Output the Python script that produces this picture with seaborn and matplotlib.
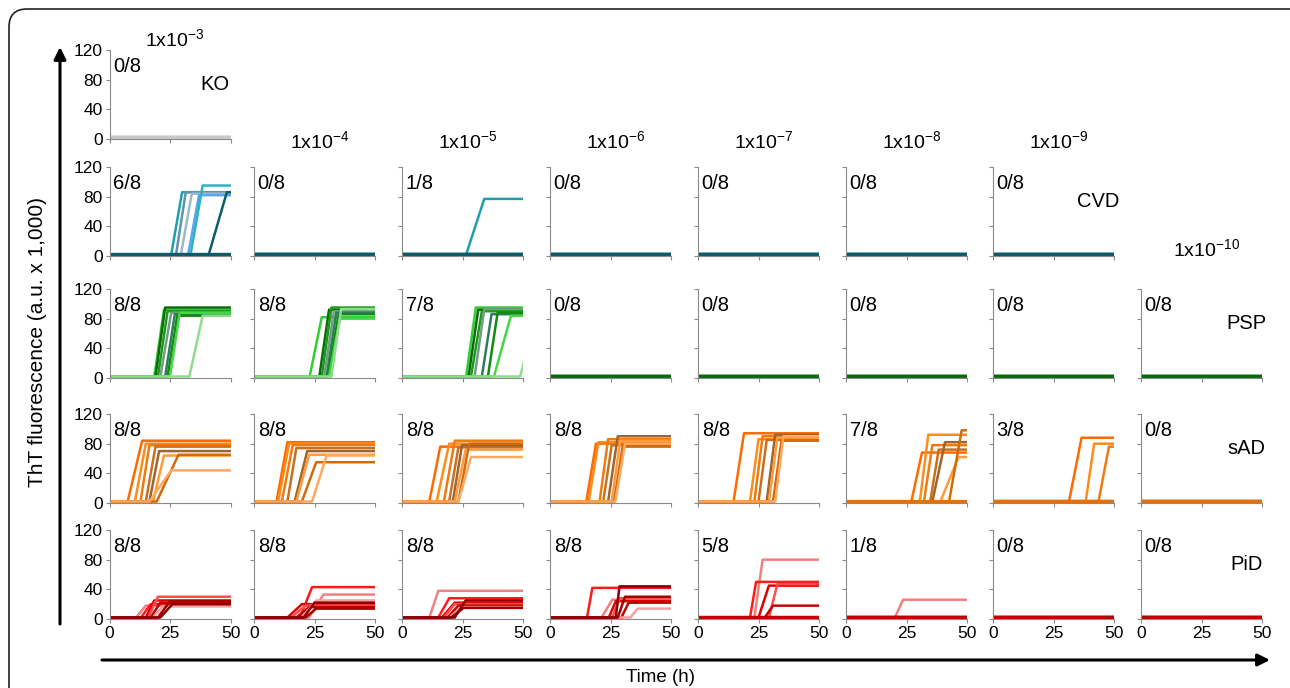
import pandas as pd
import seaborn as sns
import matplotlib.pyplot as plt
from matplotlib.patches import FancyBboxPatch

sns.set_style('ticks')
plt.rcParams['font.family'] = ['Liberation Sans', 'DejaVu Sans']
plt.rcParams['text.color'] = 'black'
plt.rcParams['xtick.labelcolor'] = 'black'
plt.rcParams['ytick.labelcolor'] = 'black'

# groups (rows) and seed dilutions (columns)
groups = ['KO', 'CVD', 'PSP', 'sAD', 'PiD']
dilutions = ['-3', '-4', '-5', '-6', '-7', '-8', '-9', '-10']

# each rising well: (lag end h, plateau reached h, plateau ThT x1000)
ko_curves = [[]]
cvd_curves = [
    [(25.5, 30, 86), (27.5, 31.5, 86), (29.5, 34, 84), (32.5, 37, 82), (33.5, 38.5, 95), (41, 48.5, 86)],
    [], [(26.5, 34, 77)], [], [], [], [],
]
psp_curves = [
    [(18.5, 22.5, 92), (19, 23, 95), (20, 24, 90), (21, 25.5, 88), (23, 27, 86), (24, 28, 84), (25, 29, 88), (33, 38.5, 84)],
    [(23, 28, 82), (27, 31, 92), (28, 32, 95), (29, 33, 90), (30, 34, 88), (30.5, 35, 86), (31, 35.5, 80), (32, 36, 93)],
    [(26.5, 30.5, 95), (27.5, 31.5, 92), (28.5, 33, 90), (30, 34, 93), (33, 37, 86), (35.5, 39.5, 88), (38, 45, 84), (48.8, 56, 90)],
    [], [], [], [], [],
]
sad_curves = [
    [(7.5, 13.5, 84), (10.5, 15, 80), (12.8, 16.5, 78), (15, 19, 76), (16.5, 20.5, 70), (18, 22.5, 64), (19.5, 28.5, 65), (16.5, 25.5, 44)],
    [(9.3, 13.8, 82), (10, 14.5, 80), (11.5, 16, 78), (13.8, 17.5, 74), (16.8, 22, 70), (17.5, 22.8, 65), (19.8, 25.7, 55), (24, 30, 64)],
    [(11.3, 15.8, 76), (14.3, 19.5, 80), (17.3, 21.8, 84), (19.5, 23.3, 75), (21, 24.8, 78), (21.8, 26.3, 72), (23.3, 27.8, 80), (23.3, 28.5, 62)],
    [(15, 19, 80), (16, 20, 82), (20.5, 24, 86), (22, 25.5, 78), (24, 28, 90), (25.5, 29, 84), (26.5, 30, 76), (27, 31, 80)],
    [(14.7, 19, 94), (21.5, 25, 86), (23.3, 26.7, 90), (25, 28.4, 85), (28.4, 31.9, 92), (29.3, 32.8, 88), (31, 34.5, 84), (31.9, 35.3, 90)],
    [(27, 31.4, 68), (30.5, 34, 92), (32.2, 35.7, 78), (34.8, 38.3, 72), (35.7, 40.9, 82), (39, 46.5, 62), (42.6, 47.8, 98)],
    [(31.4, 36.6, 88), (38.3, 41.8, 80), (43.6, 47.9, 76)],
    [],
]
pid_curves = [
    [(11, 15, 18), (13, 17, 20), (15, 18.5, 25), (16, 20, 30), (17, 21, 22), (18, 22, 17), (20, 25, 24), (21, 26, 20)],
    [(22.8, 28.7, 33), (19, 24, 43), (13.8, 19.8, 20), (15.3, 21.3, 18), (17.5, 22.8, 16), (19.8, 25.7, 25), (21.3, 25.7, 14), (20.5, 25, 22)],
    [(11.3, 15, 38), (15, 19.5, 28), (16.5, 21.8, 22), (17.3, 21.8, 20), (18.8, 23.3, 18), (19.5, 24.8, 16), (20.3, 25.5, 15), (21.8, 26.3, 25)],
    [(21.3, 25.7, 26), (15.3, 17.5, 42), (24.3, 27.2, 24), (25.7, 28.7, 28), (29.5, 32.5, 22), (33.2, 36.2, 14), (28, 31, 30), (27.2, 28.7, 44)],
    [(23.3, 26.7, 80), (21.5, 24, 50), (25, 29.3, 45), (29.3, 32.8, 47), (27.6, 31, 18)],
    [(20.2, 23.6, 26)],
    [], [],
]
all_curves = [ko_curves, cvd_curves, psp_curves, sad_curves, pid_curves]

ko_scores = ['0/8']
cvd_scores = ['6/8', '0/8', '1/8', '0/8', '0/8', '0/8', '0/8']
psp_scores = ['8/8', '8/8', '7/8', '0/8', '0/8', '0/8', '0/8', '0/8']
sad_scores = ['8/8', '8/8', '8/8', '8/8', '8/8', '7/8', '3/8', '0/8']
pid_scores = ['8/8', '8/8', '8/8', '8/8', '5/8', '1/8', '0/8', '0/8']
all_scores = [ko_scores, cvd_scores, psp_scores, sad_scores, pid_scores]

baseline = 2
base_colors = ['#c9c9c9', '#0b5a6a', '#0e680e', '#e2700e', '#c00000']
palettes = [
    ['#c9c9c9'] * 8,
    ['#1f9fae', '#5b97a8', '#9fb8cc', '#58a6f2', '#2cb3c2', '#0c5d6c', '#3aa5b5', '#0b5a6a'],
    ['#33cc33', '#0b6b0b', '#1a9a1a', '#6f9f7f', '#2f7d5f', '#128a12', '#45d645', '#8fdc8f'],
    ['#ff6a00', '#ff8c1a', '#f07a10', '#c7701f', '#a0642c', '#ff9a3c', '#d26a08', '#ffa860'],
    ['#f28080', '#ff1a1a', '#e00000', '#ff4d4d', '#c40000', '#f4a0a0', '#a50000', '#8a0000'],
]

# layout in pixels
W, H = 1290, 688
col_left = [109.5, 254, 402, 550, 698, 846, 993, 1141]
col_w = 121
row_top = [50, 167, 289, 414, 530]
row_h = 89

fig = plt.figure(figsize=(W / 100, H / 100), dpi=100)

# background overlay for frame and arrows
over = fig.add_axes([0, 0, 1, 1], zorder=-1)
over.set_xlim(0, W)
over.set_ylim(H, 0)
over.axis('off')
over.add_patch(FancyBboxPatch((9, 9), 1300, 720, boxstyle='round,pad=0,rounding_size=18',
                              fc='none', ec='#222222', lw=1.2))
over.annotate('', xy=(60, 47), xytext=(60, 624),
              arrowprops=dict(arrowstyle='-|>', lw=2.2, color='k', mutation_scale=18, shrinkA=0, shrinkB=0))
over.annotate('', xy=(1270, 660), xytext=(102, 660),
              arrowprops=dict(arrowstyle='-|>', lw=2.2, color='k', mutation_scale=18, shrinkA=0, shrinkB=0))

n_rows = len(groups)
for r in range(n_rows):
    curves_row = all_curves[r]
    for c, curves in enumerate(curves_row):
        ax = fig.add_axes([col_left[c] / W, 1 - (row_top[r] + row_h) / H, col_w / W, row_h / H])
        rec = []
        for i, (t0, t1, p) in enumerate(curves):
            for t, v in zip([0, t0, t1, max(50, t1)], [baseline, baseline, p, p]):
                rec.append((i, t, v))
        if rec:
            df = pd.DataFrame(rec, columns=['well', 't', 'v'])
            sns.lineplot(data=df, x='t', y='v', hue='well', palette=palettes[r][:len(curves)],
                         estimator=None, sort=False, legend=False, lw=1.8, ax=ax)
        n_flat = 8 - len(curves)
        if n_flat > 0:
            flat = pd.DataFrame([(j, t, baseline) for j in range(n_flat) for t in (0, 50)],
                                columns=['well', 't', 'v'])
            sns.lineplot(data=flat, x='t', y='v', units='well', estimator=None, sort=False,
                         color=base_colors[r], lw=3, ax=ax)
        ax.set_xlim(0, 50)
        ax.set_ylim(0, 120)
        ax.set_xticks([0, 25, 50])
        ax.set_yticks([0, 40, 80, 120])
        ax.set_xlabel('')
        ax.set_ylabel('')
        sns.despine(ax=ax)
        for s in ('left', 'bottom'):
            ax.spines[s].set_color('#8a8a8a')
            ax.spines[s].set_linewidth(0.8)
        ax.tick_params(length=3, width=0.8, color='#8a8a8a', labelsize=12.5, pad=2,
                       labelcolor='black', labelleft=(c == 0), labelbottom=(r == n_rows - 1))
        ax.patch.set_alpha(0)
        ax.text(0.03, 0.81, all_scores[r][c], transform=ax.transAxes, fontsize=14.5,
                ha='left', va='center')
        if c == len(curves_row) - 1:
            ax.text(0.87, 0.61, groups[r], transform=ax.transAxes, fontsize=14.5,
                    ha='center', va='center')

# dilution labels above the first panel of each dilution column
dil_base_y = [47, 149, 149, 149, 149, 149, 149, 257]
for k, d in enumerate(dilutions):
    x = col_left[k] + col_w / 2 + 5
    fig.text(x / W, 1 - dil_base_y[k] / H, '1x10$^{\\mathregular{' + d + '}}$',
             fontsize=14, ha='center', va='baseline')

fig.text(38 / W, 1 - 342 / H, 'ThT fluorescence (a.u. x 1,000)', rotation=90,
         fontsize=15, ha='center', va='center')
fig.text(660 / W, 1 - 678 / H, 'Time (h)', fontsize=13.5, ha='center', va='center')

fig.savefig('out.png', dpi=100)
